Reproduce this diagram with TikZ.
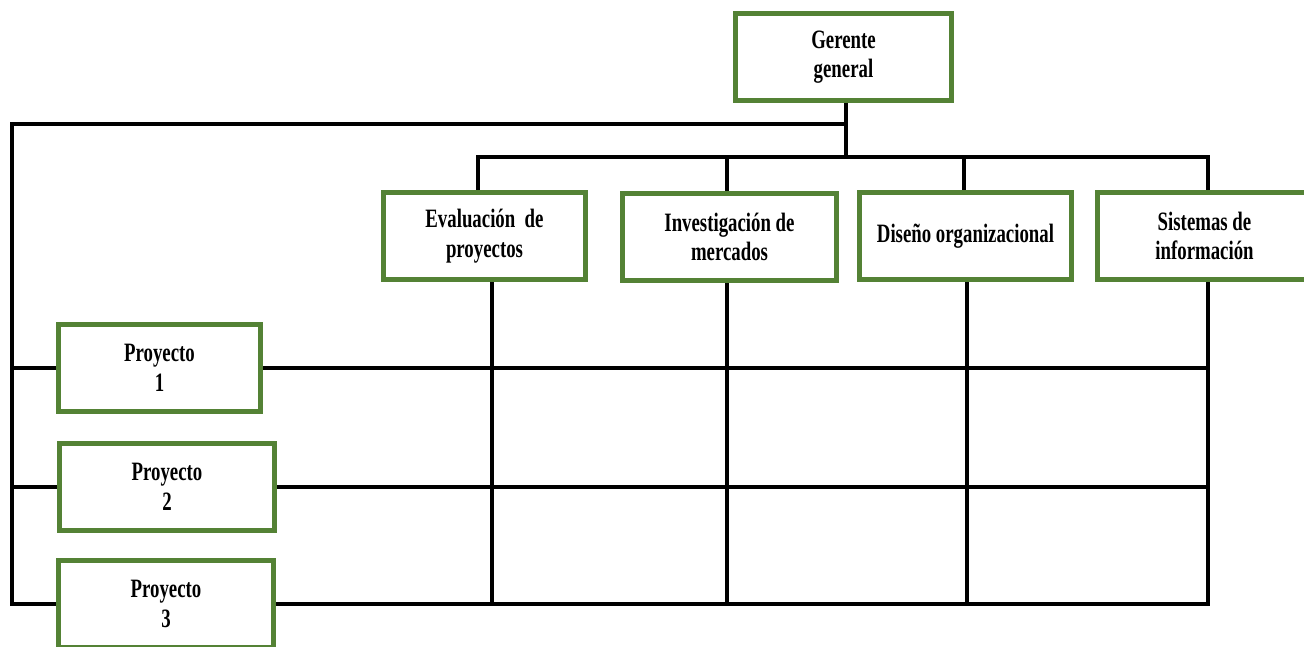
\documentclass[tikz,border=0pt]{standalone}
\usepackage{fontspec}
\newfontfamily\boxfont{Liberation Serif}[FakeStretch=0.71]
\definecolor{boxgreen}{RGB}{84,130,53}
\begin{document}
\begin{tikzpicture}[x=1pt,y=-1pt,
  unit/.style={draw=boxgreen, line width=5pt, fill=white, inner sep=0pt,
    minimum height=87pt, align=center,
    font=\boxfont\bfseries\fontsize{26.5}{29.5}\selectfont},
  link/.style={line width=4pt, black, line join=miter}]
\useasboundingbox (0,0) rectangle (1304,647);

% top of the hierarchy
\node[unit, minimum width=216pt] (gg) at (843.5,57) {Gerente\\general};

% functional areas
\node[unit, minimum width=202pt] (ev)  at (484.5,236) {Evaluación\ \ de\\proyectos};
\node[unit, minimum width=214pt] (inv) at (729.5,237) {Investigación de\\mercados};
\node[unit, minimum width=212pt] (dis) at (965.5,236) {Diseño organizacional};
\node[unit, minimum width=214pt] (sis) at (1204.5,236) {Sistemas de\\información};

% projects
\node[unit, minimum width=202pt] (p1) at (159.5,368) {Proyecto\\1};
\node[unit, minimum width=215pt] (p2) at (167,487) {Proyecto\\2};
\node[unit, minimum width=215pt] (p3) at (166,604) {Proyecto\\3};

% junction points
\coordinate (j1) at (846,124);
\coordinate (j2) at (846,157);
\coordinate (lt) at (12,124);
\coordinate (h1) at (478,157);
\coordinate (h2) at (727,157);
\coordinate (h3) at (964,157);
\coordinate (h4) at (1208,157);
\coordinate (b1) at (492,604);
\coordinate (b2) at (727,604);
\coordinate (b3) at (967,604);
\coordinate (b4) at (1208,604);

% general manager to areas and projects
\draw[link] (gg.south -| j2) -- (j2);
\draw[link] (j1) -- (lt) |- (p3.west);
\draw[link] (p1.west -| lt) -- (p1.west);
\draw[link] (p2.west -| lt) -- (p2.west);
\draw[link] (ev.north -| h1) -- (h1) -- (h4) -- (h4 |- sis.north);
\draw[link] (h2) -- (h2 |- inv.north);
\draw[link] (h3) -- (h3 |- dis.north);

% matrix grid
\draw[link] (b1 |- ev.south) -- (b1);
\draw[link] (b2 |- inv.south) -- (b2);
\draw[link] (b3 |- dis.south) -- (b3);
\draw[link] (p3.east) -- (b4) -- (b4 |- sis.south);
\draw[link] (p1.east) -- (p1.east -| b4);
\draw[link] (p2.east) -- (p2.east -| b4);
\end{tikzpicture}
\end{document}
